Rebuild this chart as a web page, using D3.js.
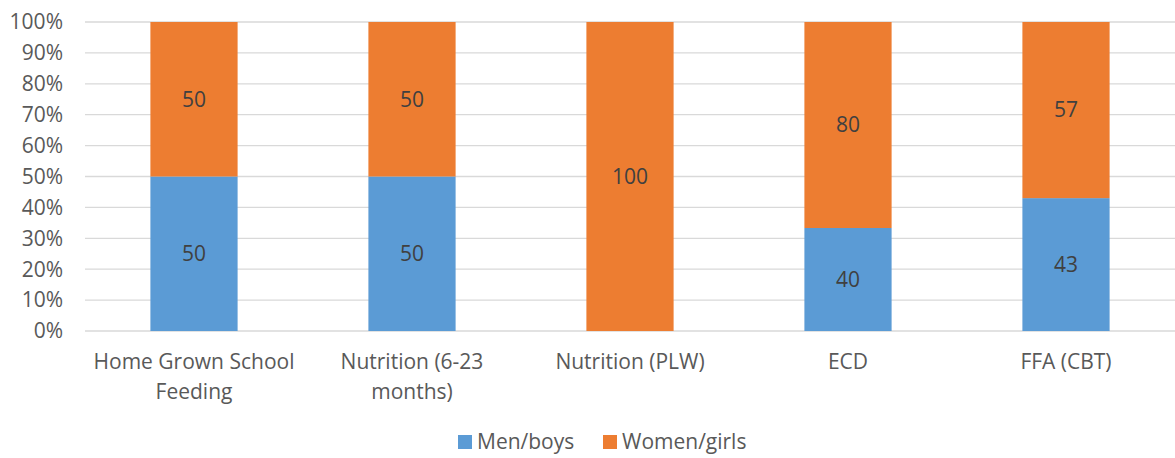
<!DOCTYPE html>
<html><head><meta charset="utf-8">
<script src="https://cdn.jsdelivr.net/npm/d3@7"></script>
<style>body{margin:0;background:#fff}svg{display:block;font-family:"Open Sans","Liberation Sans",sans-serif}</style>
</head><body>
<svg id="c" width="1175" height="458"></svg>
<script>
const categories = [["Home Grown School","Feeding"],["Nutrition (6-23","months)"],["Nutrition (PLW)"],["ECD"],["FFA (CBT)"]];
const menBoys = [50, 50, 0, 40, 43];
const womenGirls = [50, 50, 100, 80, 57];
const seriesNames = ["Men/boys", "Women/girls"];
const colors = ["#5B9BD5", "#ED7D31"];
const yTicks = [0,0.1,0.2,0.3,0.4,0.5,0.6,0.7,0.8,0.9,1];

(function(){
const svg = d3.select("#c");
const fs = 21;
const pl = 85, pr = 1175, pt = 22, pb = 331;
const x = d3.scaleBand().domain(d3.range(categories.length)).range([pl, pr]).paddingInner(0.6).paddingOuter(0.3);
const y = d3.scaleLinear().domain([0,1]).range([pb, pt]);

svg.append("g").selectAll("line").data(yTicks).join("line")
  .attr("x1", pl).attr("x2", pr)
  .attr("y1", d => y(d)).attr("y2", d => y(d))
  .attr("stroke", "#d9d9d9").attr("stroke-width", 1.3);

svg.append("g").selectAll("text").data(yTicks).join("text")
  .attr("x", 63).attr("y", d => y(d)).attr("dy", "0.35em")
  .attr("text-anchor", "end").attr("fill", "#595959").attr("font-size", fs)
  .text(d => d3.format(".0%")(d));

const rows = categories.map((c, i) => ({i, men: menBoys[i], women: womenGirls[i]}));
const stacked = d3.stack().keys(["men","women"]).offset(d3.stackOffsetExpand)(rows);

stacked.forEach((s, k) => {
  const g = svg.append("g");
  g.selectAll("rect").data(s).join("rect")
    .attr("x", d => x(d.data.i)).attr("width", x.bandwidth())
    .attr("y", d => y(d[1])).attr("height", d => y(d[0]) - y(d[1]))
    .attr("fill", colors[k]);
  g.selectAll("text").data(s.filter(d => d.data[s.key] > 0)).join("text")
    .attr("x", d => x(d.data.i) + x.bandwidth()/2)
    .attr("y", d => (y(d[0]) + y(d[1]))/2).attr("dy", "0.35em")
    .attr("text-anchor", "middle").attr("fill", "#404040").attr("font-size", fs)
    .text(d => d.data[s.key]);
});

const cl = svg.append("g").selectAll("text").data(categories).join("text")
  .attr("x", (d, i) => x(i) + x.bandwidth()/2).attr("y", 362)
  .attr("text-anchor", "middle").attr("fill", "#595959").attr("font-size", fs);
cl.each(function(d){
  const t = d3.select(this);
  d.forEach((line, j) => t.append("tspan").attr("x", t.attr("x")).attr("dy", j === 0 ? "0.35em" : 30).text(line));
});

const legend = [{name: seriesNames[0], c: colors[0], x: 458}, {name: seriesNames[1], c: colors[1], x: 603}];
const lg = svg.append("g").selectAll("g").data(legend).join("g");
lg.append("rect").attr("x", d => d.x).attr("y", 435).attr("width", 14).attr("height", 14).attr("fill", d => d.c);
lg.append("text").attr("x", d => d.x + 19).attr("y", 442).attr("dy", "0.35em")
  .attr("fill", "#595959").attr("font-size", fs).text(d => d.name);
})();
</script>
</body></html>
